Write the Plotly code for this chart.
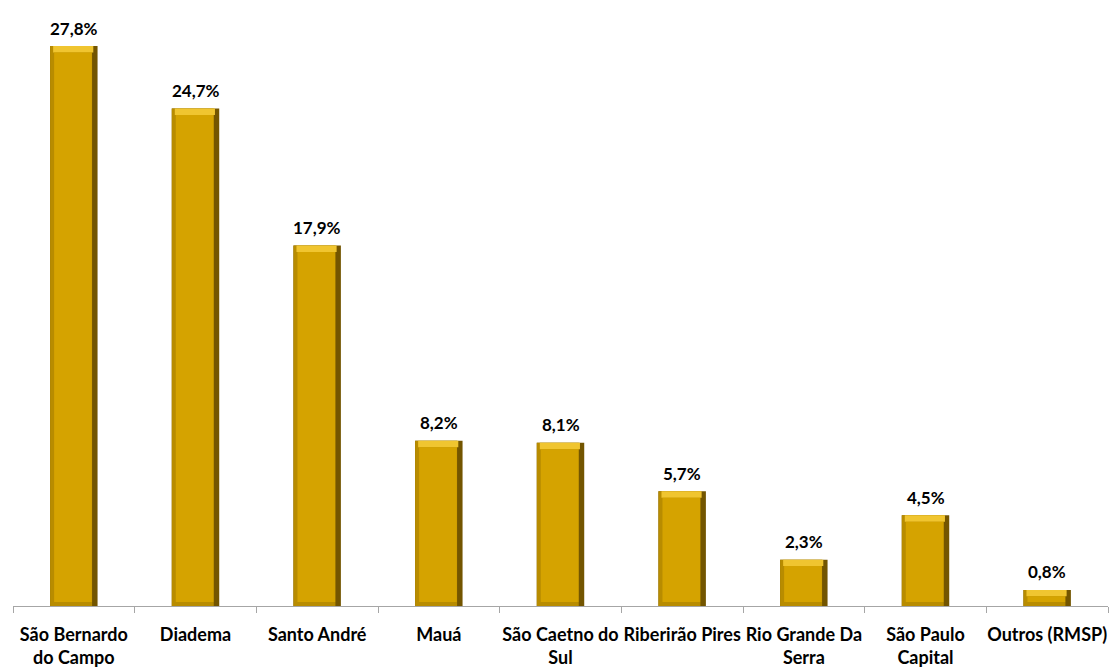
import plotly.graph_objects as go

categories = ["São Bernardo<br>do Campo", "Diadema", "Santo André", "Mauá",
              "São Caetno do<br>Sul", "Riberirão Pires", "Rio Grande Da<br>Serra",
              "São Paulo<br>Capital", "Outros (RMSP)"]
values = [27.8, 24.7, 17.9, 8.2, 8.1, 5.7, 2.3, 4.5, 0.8]
labels = [f"{v:.1f}%".replace(".", ",") for v in values]

W = 0.39
TOP = 0.32   # top bevel depth (data units)
BOT = 0.2    # bottom bevel depth
font_fam = "Lato, 'Open Sans', sans-serif"

fig = go.Figure()
# dark base (right edge shadow)
fig.add_trace(go.Bar(x=categories, y=values, width=W, marker=dict(color="#735500", line=dict(width=0)),
                     hoverinfo="skip", showlegend=False))
# mid-tone (left edge and bottom bevel)
fig.add_trace(go.Bar(x=categories, y=values, width=W - 0.045, offset=-W / 2,
                     marker=dict(color="#B88C00", line=dict(width=0)), hoverinfo="skip", showlegend=False))
# top highlight bevel
fig.add_trace(go.Bar(x=categories, y=[TOP for v in values], base=[v - TOP for v in values],
                     width=W - 0.06, offset=-W / 2 + 0.025,
                     marker=dict(color="#F0C530", line=dict(width=0)), hoverinfo="skip", showlegend=False))
# face
fig.add_trace(go.Bar(x=categories, y=[max(v - TOP - BOT, 0.05) for v in values], base=BOT,
                     width=W - 0.08, offset=-W / 2 + 0.033,
                     marker=dict(color="#D5A300", line=dict(width=0)), showlegend=False))

for c, v, t in zip(categories, values, labels):
    fig.add_annotation(x=c, y=v, text=t, showarrow=False, yshift=18,
                       font=dict(family=font_fam, size=17, color="#000000", weight="bold"))

fig.update_layout(
    width=1110, height=668, barmode="overlay",
    margin=dict(l=13, r=2, t=0, b=62, autoexpand=False),
    plot_bgcolor="white", paper_bgcolor="white",
    xaxis=dict(type="category", range=[-0.5, 8.5], showline=True, linecolor="#A6A6A6", linewidth=1,
               ticks="outside", tickson="boundaries", ticklen=6, tickcolor="#A6A6A6",
               ticklabelstandoff=12, showgrid=False, tickangle=0, automargin=False,
               tickfont=dict(family=font_fam, size=18, color="#000000", weight="bold")),
    yaxis=dict(range=[0, 30.09], visible=False, showgrid=False, automargin=False),
)

fig.write_html("out.html")
